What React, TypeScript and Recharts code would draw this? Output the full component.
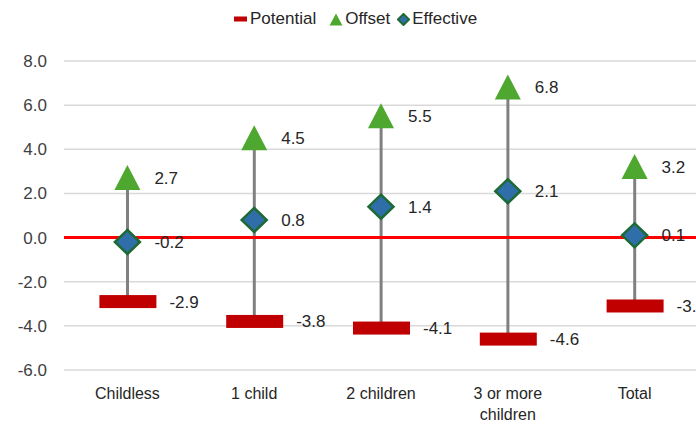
import {
  ComposedChart,
  Bar,
  Line,
  XAxis,
  YAxis,
  CartesianGrid,
  ReferenceLine,
  LabelList,
} from "recharts";

const categories = ["Childless", "1 child", "2 children", "3 or more\nchildren", "Total"];
const potential = [-2.9, -3.8, -4.1, -4.6, -3.1];
const offset = [2.7, 4.5, 5.5, 6.8, 3.2];
const effective = [-0.2, 0.8, 1.4, 2.1, 0.1];
const yTicks = [-6, -4, -2, 0, 2, 4, 6, 8];
const legendItems = ["Potential", "Offset", "Effective"];

const data = categories.map((name, i) => ({
  name,
  potential: potential[i],
  offset: offset[i],
  effective: effective[i],
  range: [potential[i], offset[i]],
}));

const FONT = "'Liberation Sans', Arial, sans-serif";
const RED_BAR = "#C00000";
const GREEN = "#4EA72E";
const BLUE = "#2F6EA8";
const DARK_GREEN = "#1E6A35";

const PotentialDot = (props: any) => {
  const { cx, cy } = props;
  if (cx == null || cy == null) return null;
  return <rect x={cx - 28} y={cy - 6.5} width={57} height={13} fill={RED_BAR} />;
};

const OffsetDot = (props: any) => {
  const { cx, cy } = props;
  if (cx == null || cy == null) return null;
  return (
    <polygon
      points={`${cx},${cy - 13} ${cx - 13},${cy + 12} ${cx + 13},${cy + 12}`}
      fill={GREEN}
    />
  );
};

const EffectiveDot = (props: any) => {
  const { cx, cy } = props;
  if (cx == null || cy == null) return null;
  return (
    <polygon
      points={`${cx},${cy - 12} ${cx + 12.5},${cy} ${cx},${cy + 12} ${cx - 12.5},${cy}`}
      fill={BLUE}
      stroke={DARK_GREEN}
      strokeWidth={2.5}
    />
  );
};

const valueLabel = (dx: number) => (props: any) => {
  const { x, y, value } = props;
  return (
    <text
      x={x + dx}
      y={y + 6}
      fill="#262626"
      fontSize={17}
      fontFamily={FONT}
      textAnchor="start"
    >
      {Number(value).toFixed(1)}
    </text>
  );
};

const CategoryTick = (props: any) => {
  const { x, y, payload } = props;
  const lines = String(payload.value).split("\n");
  return (
    <text x={x} y={y} fill="#262626" fontSize={16} fontFamily={FONT} textAnchor="middle">
      {lines.map((line, i) => (
        <tspan key={i} x={x} y={y + 29 + i * 21}>
          {line}
        </tspan>
      ))}
    </text>
  );
};

const LegendIcon = ({ index }: { index: number }) => {
  if (index === 0)
    return (
      <svg width={13} height={8} style={{ marginRight: 3 }}>
        <rect x={0} y={1.5} width={13} height={5} fill={RED_BAR} />
      </svg>
    );
  if (index === 1)
    return (
      <svg width={14} height={13} style={{ marginRight: 2 }}>
        <polygon points="7,0.5 0.5,12.5 13.5,12.5" fill={GREEN} />
      </svg>
    );
  return (
    <svg width={13} height={13} style={{ marginRight: 2 }}>
      <polygon
        points="6.5,1 12,6.5 6.5,12 1,6.5"
        fill={BLUE}
        stroke={DARK_GREEN}
        strokeWidth={2}
      />
    </svg>
  );
};

export default function App() {
  return (
    <div
      style={{
        position: "absolute",
        left: 0,
        top: 0,
        width: 696,
        height: 427,
        overflow: "hidden",
        background: "#fff",
      }}
    >
      <div
        style={{
          position: "absolute",
          left: 234,
          top: 9,
          display: "flex",
          alignItems: "center",
          fontFamily: FONT,
          fontSize: 17,
          color: "#262626",
          whiteSpace: "nowrap",
        }}
      >
        {legendItems.map((item, i) => (
          <div
            key={item}
            style={{ display: "flex", alignItems: "center", marginRight: i === 0 ? 13 : 7 }}
          >
            <LegendIcon index={i} />
            <span>{item}</span>
          </div>
        ))}
      </div>

      <ComposedChart
        width={710}
        height={427}
        data={data}
        margin={{ top: 61, right: 12, bottom: 7, left: 14 }}
      >
        <CartesianGrid vertical={false} stroke="#D9D9D9" strokeWidth={1.5} />
        <XAxis
          dataKey="name"
          axisLine={false}
          tickLine={false}
          tickSize={0}
          tickMargin={0}
          height={50}
          interval={0}
          tick={<CategoryTick />}
        />
        <YAxis
          domain={[-6, 8]}
          ticks={yTicks}
          width={50}
          axisLine={false}
          tickLine={false}
          tickSize={0}
          tickMargin={17}
          tickFormatter={(v: number) => v.toFixed(1)}
          tick={{ fill: "#404040", fontSize: 17, fontFamily: FONT }}
        />
        <ReferenceLine y={0} stroke="#FF0000" strokeWidth={3} />
        <Bar dataKey="range" barSize={3} fill="#808080" isAnimationActive={false} />
        <Line
          dataKey="potential"
          stroke="none"
          dot={<PotentialDot />}
          activeDot={false}
          isAnimationActive={false}
        >
          <LabelList dataKey="potential" content={valueLabel(42)} />
        </Line>
        <Line
          dataKey="offset"
          stroke="none"
          dot={<OffsetDot />}
          activeDot={false}
          isAnimationActive={false}
        >
          <LabelList dataKey="offset" content={valueLabel(27)} />
        </Line>
        <Line
          dataKey="effective"
          stroke="none"
          dot={<EffectiveDot />}
          activeDot={false}
          isAnimationActive={false}
        >
          <LabelList dataKey="effective" content={valueLabel(27)} />
        </Line>
      </ComposedChart>
    </div>
  );
}
